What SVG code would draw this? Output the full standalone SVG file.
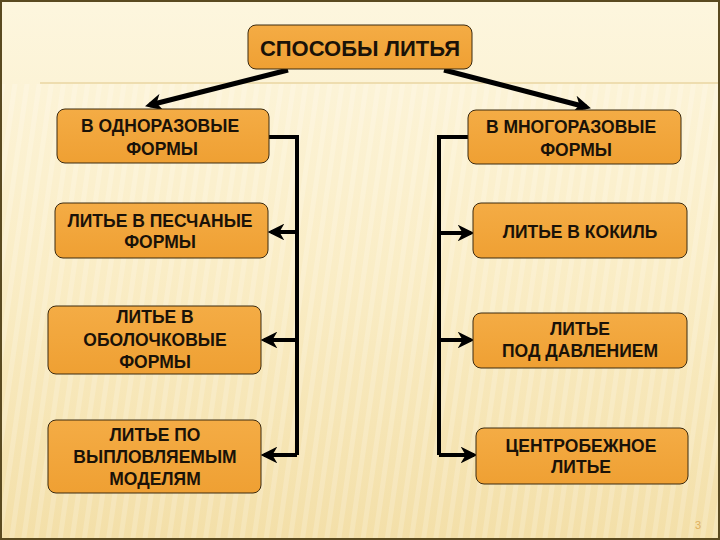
<svg xmlns="http://www.w3.org/2000/svg" width="720" height="540" viewBox="0 0 720 540">
<defs>
<linearGradient id="bg" x1="0" y1="0" x2="0" y2="1">
<stop offset="0" stop-color="#FDF6DE"/>
<stop offset="0.5" stop-color="#FAEDC6"/>
<stop offset="1" stop-color="#F3DFA8"/>
</linearGradient>
<pattern id="stripes" width="12" height="12" patternUnits="userSpaceOnUse" patternTransform="rotate(8)">
<rect x="0" y="0" width="5" height="12" fill="#FFFFFF" opacity="0.18"/>
</pattern>
<linearGradient id="nodefill" x1="0" y1="0" x2="0" y2="1">
<stop offset="0" stop-color="#F4AC45"/>
<stop offset="1" stop-color="#EFA033"/>
</linearGradient>
<marker id="ah" viewBox="0 0 10 10" refX="7" refY="5" markerWidth="3.4" markerHeight="3.4" orient="auto" markerUnits="strokeWidth">
<path d="M0,0 L10,5 L0,10 L3,5 Z" fill="#000"/>
</marker>
<marker id="ah2" viewBox="0 0 10 10" refX="8" refY="5" markerWidth="4.2" markerHeight="4.2" orient="auto" markerUnits="strokeWidth">
<path d="M0,0 L10,5 L0,10 L3,5 Z" fill="#000"/>
</marker>
</defs>
<style>
.node rect { fill: url(#nodefill); stroke: #3B2A10; stroke-width: 1; }
.node text { font-family: "Liberation Sans", Arial, sans-serif; font-weight: bold; font-size: 17.5px; fill: #1A1208; text-anchor: middle; }
.conn { stroke: #000; stroke-width: 4; fill: none; }
.thick { stroke: #000; stroke-width: 5; fill: none; }
</style>
<rect x="0" y="0" width="720" height="540" fill="url(#bg)"/>
<rect x="0" y="84" width="720" height="456" fill="url(#stripes)"/>
<line x1="40" y1="83" x2="720" y2="83" stroke="#EAD6A2" stroke-width="1.5"/>
<rect x="1" y="1" width="718" height="538" fill="none" stroke="#5A4A20" stroke-width="2"/>

<g id="connectors">
<line class="thick" x1="288" y1="70" x2="150" y2="105" marker-end="url(#ah)"/>
<line class="thick" x1="444" y1="70" x2="586" y2="107" marker-end="url(#ah)"/>
<polyline class="conn" points="269,137 297,137 297,455"/>
<line class="conn" x1="297" y1="232" x2="271" y2="232" marker-end="url(#ah2)"/>
<line class="conn" x1="297" y1="340" x2="264" y2="340" marker-end="url(#ah2)"/>
<line class="conn" x1="297" y1="455" x2="264" y2="455" marker-end="url(#ah2)"/>
<polyline class="conn" points="468,137 439,137 439,455"/>
<line class="conn" x1="439" y1="233" x2="471" y2="233" marker-end="url(#ah2)"/>
<line class="conn" x1="439" y1="340" x2="471" y2="340" marker-end="url(#ah2)"/>
<line class="conn" x1="439" y1="455" x2="474" y2="455" marker-end="url(#ah2)"/>
</g>

<g id="n0" class="node">
<rect x="248" y="25" width="224" height="44" rx="8"/>
<text x="360" y="56" style="font-size:22px">СПОСОБЫ ЛИТЬЯ</text>
</g>
<g id="n1" class="node">
<rect x="57" y="109" width="212" height="54" rx="8"/>
<text x="160" y="132">В ОДНОРАЗОВЫЕ</text>
<text x="162" y="155">ФОРМЫ</text>
</g>
<g id="n2" class="node">
<rect x="55" y="203" width="213" height="55" rx="8"/>
<text x="160" y="227">ЛИТЬЕ В ПЕСЧАНЫЕ</text>
<text x="160" y="248">ФОРМЫ</text>
</g>
<g id="n3" class="node">
<rect x="48" y="306" width="213" height="68" rx="8"/>
<text x="155" y="323">ЛИТЬЕ В</text>
<text x="155" y="346">ОБОЛОЧКОВЫЕ</text>
<text x="155" y="368">ФОРМЫ</text>
</g>
<g id="n4" class="node">
<rect x="48" y="420" width="213" height="73" rx="8"/>
<text x="155" y="441">ЛИТЬЕ ПО</text>
<text x="155" y="463">ВЫПЛОВЛЯЕМЫМ</text>
<text x="155" y="485">МОДЕЛЯМ</text>
</g>
<g id="n5" class="node">
<rect x="468" y="110" width="213" height="54" rx="8"/>
<text x="571" y="133">В МНОГОРАЗОВЫЕ</text>
<text x="576" y="156">ФОРМЫ</text>
</g>
<g id="n6" class="node">
<rect x="473" y="203" width="214" height="55" rx="8"/>
<text x="580" y="238">ЛИТЬЕ В КОКИЛЬ</text>
</g>
<g id="n7" class="node">
<rect x="473" y="313" width="214" height="55" rx="8"/>
<text x="580" y="335">ЛИТЬЕ</text>
<text x="580" y="357">ПОД ДАВЛЕНИЕМ</text>
</g>
<g id="n8" class="node">
<rect x="476" y="428" width="212" height="56" rx="8"/>
<text x="581" y="452">ЦЕНТРОБЕЖНОЕ</text>
<text x="581" y="473">ЛИТЬЕ</text>
</g>
<text x="698" y="529" font-family="Liberation Sans, Arial, sans-serif" font-size="11" fill="#E0B060" text-anchor="middle">3</text>
</svg>
